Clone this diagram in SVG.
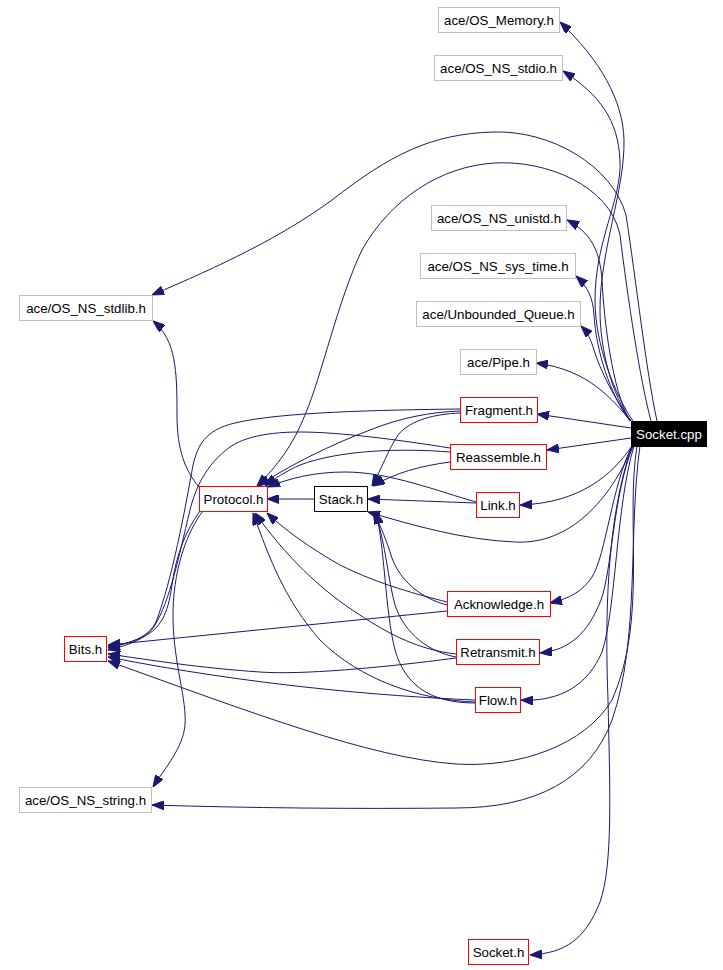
<svg xmlns="http://www.w3.org/2000/svg" width="723" height="970" viewBox="0 0 723 970">
<style>
.e{fill:none;stroke:#191970;stroke-width:1;marker-end:url(#a)}
.n rect{fill:#fff;stroke-width:1}
.g rect{stroke:#bfbfbf}
.r rect{stroke:#ff0000}
.k rect{stroke:#000}
text{font-family:"Liberation Sans",Arial,Helvetica,sans-serif;font-size:13.3px;text-anchor:middle;fill:#000}
</style>
<defs>
<marker id="a" markerWidth="12" markerHeight="9" refX="12" refY="4.5" orient="auto" markerUnits="userSpaceOnUse"><path d="M0,0 L12,4.5 L0,9 z" fill="#191970" stroke="#191970"/></marker>
</defs>
<rect x="0" y="0" width="723" height="970" fill="#fff"/>
<g id="edges">
<path class="e" d="M631,421 C612,395 600,350 600,310 C600,250 625,190 624,140 C623,100 600,60 560,22"/>
<path class="e" d="M633,421 C615,395 595,345 595,300 C595,240 622,200 620,160 C618,120 600,95 563,71"/>
<path class="e" d="M630,421 C612,390 604,320 602,280 C600,250 590,232 567,220"/>
<path class="e" d="M630,421 C610,395 596,350 594,315 C593,298 588,287 576,276"/>
<path class="e" d="M631,421 C615,400 600,370 594,350 C591,340 588,333 581,326"/>
<path class="e" d="M631,421 C612,400 590,370 536,363"/>
<path class="e" d="M631,428 L537,414"/>
<path class="e" d="M631,438 L547,450"/>
<path class="e" d="M632,446 C612,475 580,503 520,505"/>
<path class="e" d="M633,446 C610,500 570,545 515,542 C465,540 415,526 368,512"/>
<path class="e" d="M651,421 C640,380 628,300 620,235 C610,185 545,160 495,163 C440,166 390,200 362,250 C338,300 322,375 305,415 C293,445 278,465 257,486"/>
<path class="e" d="M657,421 C646,370 636,280 626,215 C612,165 550,130 493,132 C430,134 390,155 332,200 C280,238 220,266 152,295"/>
<path class="e" d="M632,446 C612,485 606,555 592,577 C582,592 570,598 550,603"/>
<path class="e" d="M633,446 C613,495 612,570 601,600 C588,633 570,650 540,653"/>
<path class="e" d="M634,446 C616,505 616,610 602,652 C588,685 560,702 521,700"/>
<path class="e" d="M637,446 C625,520 648,620 612,700 C585,745 520,768 456,764 C370,758 250,712 108,661"/>
<path class="e" d="M640,446 C628,530 640,640 612,720 C590,780 535,808 456,808 C350,809 250,808 152,805"/>
<path class="e" d="M632,446 C606,520 605,620 608,700 C610,790 613,865 600,902 C585,940 565,953 530,955"/>
<path class="e" d="M199,487 C185,470 177,450 177,415 C177,370 176,340 153,321"/>
<path class="e" d="M203,511 C188,530 172,570 173,620 C174,665 187,700 185,725 C183,748 165,768 153,787"/>
<path class="e" d="M200,511 C186,530 176,555 172,585 C168,615 160,628 145,636 C135,641 125,644 108,647"/>
<path class="e" d="M314,499 L267,499"/>
<path class="e" d="M460,411 C430,412 400,418 370,430 C330,445 290,465 258,486"/>
<path class="e" d="M460,413 C435,414 410,420 398,435 C388,450 382,468 372,486"/>
<path class="e" d="M460,409 C380,410 280,412 235,423 C205,430 198,445 193,465 C185,510 172,580 156,622 C148,638 130,643 108,648"/>
<path class="e" d="M450,452 C400,448 340,450 300,465 C285,472 275,478 265,486"/>
<path class="e" d="M450,462 C420,466 395,473 373,486"/>
<path class="e" d="M450,448 C400,440 340,432 300,432 C260,432 240,440 230,447 C205,465 195,490 190,510 C178,560 170,600 155,625 C148,638 130,645 108,650"/>
<path class="e" d="M476,502 C440,492 390,472 345,472 C315,472 290,478 268,487"/>
<path class="e" d="M476,503 L368,499"/>
<path class="e" d="M447,602 C420,595 380,585 340,565 C310,548 285,530 267,513"/>
<path class="e" d="M447,605 C420,598 400,580 392,558 C386,540 382,528 373,512"/>
<path class="e" d="M447,611 L108,645"/>
<path class="e" d="M456,654 C420,650 390,635 360,615 C320,590 285,555 255,513"/>
<path class="e" d="M456,657 C430,652 405,635 395,605 C388,580 386,545 375,512"/>
<path class="e" d="M456,658 C380,668 300,675 260,672 C200,668 150,660 108,654"/>
<path class="e" d="M475,702 C420,700 360,680 320,640 C285,600 270,560 253,513"/>
<path class="e" d="M475,703 C430,703 405,685 395,650 C385,610 385,550 376,512"/>
<path class="e" d="M475,700 C380,696 250,685 108,657"/>
</g>
<g id="OS_Memory" class="n g"><rect x="438.5" y="7.5" width="121" height="25"/><text x="499" y="25">ace/OS_Memory.h</text></g>
<g id="OS_NS_stdio" class="n g"><rect x="434.5" y="55.5" width="128" height="25"/><text x="498.5" y="73">ace/OS_NS_stdio.h</text></g>
<g id="OS_NS_unistd" class="n g"><rect x="431.5" y="205.5" width="135" height="25"/><text x="499" y="223">ace/OS_NS_unistd.h</text></g>
<g id="OS_NS_sys_time" class="n g"><rect x="420.5" y="253.5" width="155" height="25"/><text x="498" y="271">ace/OS_NS_sys_time.h</text></g>
<g id="Unbounded_Queue" class="n g"><rect x="416.5" y="301.5" width="164" height="25"/><text x="498.5" y="319">ace/Unbounded_Queue.h</text></g>
<g id="Pipe" class="n g"><rect x="460.5" y="349.5" width="76" height="25"/><text x="498.5" y="367">ace/Pipe.h</text></g>
<g id="Fragment" class="n r"><rect x="460.5" y="397.5" width="77" height="25"/><text x="499" y="415">Fragment.h</text></g>
<g id="Reassemble" class="n r"><rect x="450.5" y="444.5" width="96" height="25"/><text x="498.5" y="462">Reassemble.h</text></g>
<g id="Link" class="n r"><rect x="476.5" y="492.5" width="43" height="25"/><text x="498" y="510">Link.h</text></g>
<g id="Stack" class="n k"><rect x="314.5" y="486.5" width="53" height="25"/><text x="341" y="504">Stack.h</text></g>
<g id="Protocol" class="n r"><rect x="199.5" y="486.5" width="68" height="25"/><text x="233.5" y="504">Protocol.h</text></g>
<g id="OS_NS_stdlib" class="n g"><rect x="19.5" y="295.5" width="133" height="25"/><text x="86" y="313">ace/OS_NS_stdlib.h</text></g>
<g id="Bits" class="n r"><rect x="64.5" y="636.5" width="42" height="25"/><text x="85.5" y="654">Bits.h</text></g>
<g id="Acknowledge" class="n r"><rect x="447.5" y="591.5" width="103" height="25"/><text x="499" y="609">Acknowledge.h</text></g>
<g id="Retransmit" class="n r"><rect x="456.5" y="639.5" width="83" height="25"/><text x="498" y="657">Retransmit.h</text></g>
<g id="Flow" class="n r"><rect x="475.5" y="687.5" width="45" height="25"/><text x="498" y="705">Flow.h</text></g>
<g id="OS_NS_string" class="n g"><rect x="19.5" y="787.5" width="132" height="25"/><text x="85.5" y="805">ace/OS_NS_string.h</text></g>
<g id="Socket_cpp"><rect x="631.5" y="421.5" width="75" height="25" fill="#000" stroke="#000"/><text x="669" y="439" fill="#fff" style="fill:#fff">Socket.cpp</text></g>
<g id="Socket_h" class="n r"><rect x="468.5" y="939.5" width="60" height="25"/><text x="498.5" y="957">Socket.h</text></g>
</svg>
